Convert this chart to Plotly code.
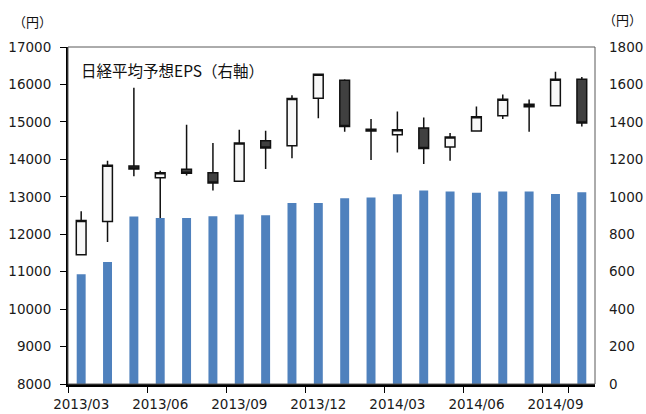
import plotly.graph_objects as go

months = ["2013/03", "2013/04", "2013/05", "2013/06", "2013/07", "2013/08", "2013/09",
          "2013/10", "2013/11", "2013/12", "2014/01", "2014/02", "2014/03", "2014/04",
          "2014/05", "2014/06", "2014/07", "2014/08", "2014/09", "2014/10"]

nk_open = [11450, 12340, 13822, 13511, 13732, 13644, 13412, 14496, 14363, 15633,
           16113, 14755, 14656, 14834, 14328, 14754, 15162, 15474, 15428, 16139]
nk_high = [12614, 13964, 15915, 13697, 14922, 14434, 14789, 14762, 15713, 16272,
           16139, 15074, 15277, 15117, 14701, 15410, 15729, 15596, 16342, 16200]
nk_low = [11450, 11790, 13546, 12430, 13565, 13165, 13400, 13742, 14027, 15100,
          14736, 13982, 14185, 13876, 13964, 14750, 15074, 14736, 15428, 14877]
nk_close = [12366, 13840, 13742, 13644, 13626, 13370, 14434, 14301, 15625, 16272,
            14878, 14805, 14789, 14292, 14594, 15135, 15603, 15402, 16139, 14967]

eps = [586, 651, 895, 887, 887, 896, 905, 902, 967, 967,
       992, 996, 1013, 1033, 1028, 1021, 1028, 1028, 1015, 1024]

tick_labels = ["2013/03", "2013/06", "2013/09", "2013/12", "2014/03", "2014/06", "2014/09"]
left_ticks = [8000, 9000, 10000, 11000, 12000, 13000, 14000, 15000, 16000, 17000]
right_ticks = [0, 200, 400, 600, 800, 1000, 1200, 1400, 1600, 1800]

num_font = dict(family="DejaVu Sans", size=13.5, color="#1a1a1a")
jp_font = "Noto Sans CJK JP"

fig = go.Figure()
fig.add_trace(go.Bar(x=months, y=eps, yaxis="y", marker=dict(color="#4F81BD", line=dict(width=0)),
                     width=0.34, showlegend=False))
fig.add_trace(go.Candlestick(
    x=months, open=nk_open, high=nk_high, low=nk_low, close=nk_close, yaxis="y2",
    increasing=dict(fillcolor="#F8F8F8", line=dict(color="#111111", width=1.5)),
    decreasing=dict(fillcolor="#404040", line=dict(color="#111111", width=1.5)),
    whiskerwidth=0, showlegend=False))

fig.update_layout(
    width=646, height=414,
    margin=dict(l=68, r=51, t=47, b=30),
    paper_bgcolor="white", plot_bgcolor="white",
    boxgap=0.63, boxgroupgap=0,
    xaxis=dict(type="category", categoryorder="array", categoryarray=months,
               tickmode="array", tickvals=tick_labels, ticktext=tick_labels,
               tickson="boundaries", ticks="outside", ticklen=6, tickcolor="black",
               tickwidth=1, showline=True, linecolor="black", linewidth=2.5,
               showgrid=False, rangeslider=dict(visible=False), tickfont=num_font,
               tickangle=0, ticklabelstandoff=6, range=[-0.5, 19.5], automargin=False),
    yaxis=dict(side="right", range=[0, 1800], tickvals=right_ticks, showgrid=False,
               zeroline=False, showline=False, ticks="", tickfont=num_font,
               tickformat="d", ticklabelstandoff=13, automargin=False),
    yaxis2=dict(side="left", overlaying="y", range=[8000, 17000], tickvals=left_ticks,
                showgrid=False, zeroline=False, showline=True, linecolor="black",
                linewidth=2, ticks="outside", ticklen=6, tickcolor="black",
                tickformat="d", tickfont=num_font, ticklabelstandoff=6, automargin=False),
    shapes=[dict(type="rect", xref="paper", yref="paper", x0=0, x1=1, y0=0, y1=1,
                 line=dict(color="#595959", width=1), layer="above")],
    annotations=[
        dict(text="日経平均予想EPS（右軸）", xref="paper", yref="paper",
             x=(79 - 68) / 527, y=(384 - 70) / 337, xanchor="left", yanchor="middle",
             showarrow=False, font=dict(family=jp_font, size=15.5, color="#111111")),
        dict(text="（円）", xref="paper", yref="paper",
             x=(11 - 68) / 527, y=(384 - 21) / 337, xanchor="left", yanchor="middle",
             showarrow=False, font=dict(family=jp_font, size=13, color="#111111")),
        dict(text="（円）", xref="paper", yref="paper",
             x=(644 - 68) / 527, y=(384 - 19) / 337, xanchor="right", yanchor="middle",
             showarrow=False, font=dict(family=jp_font, size=13, color="#111111")),
    ],
)

fig.write_html("out.html")
